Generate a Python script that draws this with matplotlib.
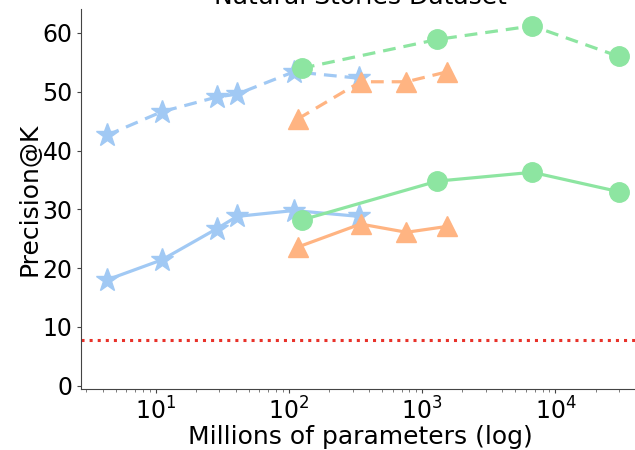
import numpy as np
import matplotlib.pyplot as plt

# model sizes (millions of params) and precision@K
star_x = [4.3, 11.1, 28.7, 40.8, 109, 336]
star_dash = [42.6, 46.6, 49.1, 49.6, 53.4, 52.3]
star_solid = [18.0, 21.4, 26.7, 28.8, 29.8, 28.8]

tri_x = [117, 345, 762, 1542]
tri_dash = [45.4, 51.7, 51.7, 53.4]
tri_solid = [23.6, 27.5, 26.1, 27.1]

circ_x = [125, 1300, 6700, 30000]
circ_dash = [54.0, 58.9, 61.2, 56.0]
circ_solid = [28.2, 34.8, 36.3, 33.0]

chance = 7.8

blue = '#a1c9f4'
orange = '#ffb482'
green = '#8de5a1'

fig = plt.figure(figsize=(6.35, 4.5), dpi=100)
ax = fig.add_axes([0.1276, 0.135, 0.88, 0.844])

ax.plot(star_x, star_dash, '*--', color=blue, ms=17, lw=2.3, dashes=(4, 2.5))
ax.plot(star_x, star_solid, '*-', color=blue, ms=17, lw=2.3)
ax.plot(tri_x, tri_dash, '^--', color=orange, ms=14, lw=2.3, dashes=(4, 2.5))
ax.plot(tri_x, tri_solid, '^-', color=orange, ms=14, lw=2.3)
ax.plot(circ_x, circ_dash, 'o--', color=green, ms=14, lw=2.3, dashes=(4, 2.5))
ax.plot(circ_x, circ_solid, 'o-', color=green, ms=14, lw=2.3)
ax.axhline(chance, color='#e8322a', ls=':', lw=2.2)

ax.set_xscale('log')
ax.set_xlim(2.75, 43000)
ax.set_ylim(-0.6, 64)
ax.set_yticks([0, 10, 20, 30, 40, 50, 60])

ax.spines['top'].set_visible(False)
ax.spines['right'].set_visible(False)
for s in ['left', 'bottom']:
    ax.spines[s].set_color('#444444')
    ax.spines[s].set_linewidth(0.8)
ax.tick_params(labelsize=17, length=3, width=0.8, pad=3, colors='#444444', labelcolor='black')
ax.tick_params(which='minor', length=2, width=0.6, colors='#666666')

ax.set_xlabel('Millions of parameters (log)', fontsize=18, labelpad=0)
ax.set_ylabel('Precision@K', fontsize=18, labelpad=1)
ax.set_title('Natural Stories Dataset', fontsize=18, pad=3)

fig.savefig('out.png', dpi=100)
